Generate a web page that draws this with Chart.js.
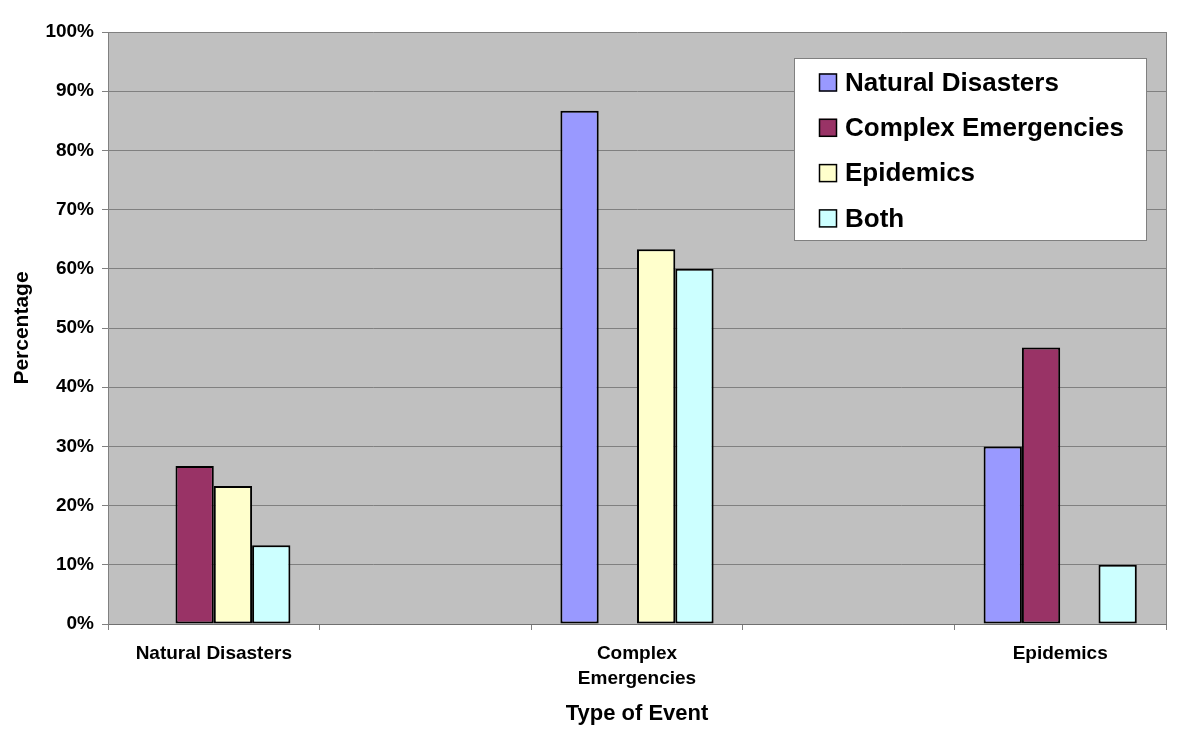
<!DOCTYPE html>
<html>
<head>
<meta charset="utf-8">
<script src="https://cdn.jsdelivr.net/npm/chart.js@4"></script>
<style>
    body { margin: 0; background: #ffffff; }
    #wrap { width: 1200px; height: 736px; }
</style>
</head>
<body>
<div id="wrap"><canvas id="barChart"></canvas></div>
<script>
// categories (two empty slots, like the original sheet)
const categories = ['Natural Disasters', '', ['Complex', 'Emergencies'], '', 'Epidemics'];
const seriesNames = ['Natural Disasters', 'Complex Emergencies', 'Epidemics', 'Both'];

// values in percent
const naturalDisasters = [0, null, 86.7, null, 30];
const complexEmergencies = [26.7, null, 0, null, 46.7];
const epidemics = [23.3, null, 63.3, null, 0];
const both = [13.3, null, 60, null, 10];

const yTicks = [0, 10, 20, 30, 40, 50, 60, 70, 80, 90, 100];

const FONT = '"Liberation Sans", Arial, sans-serif';

// grey plot background + right border
const plotBg = {
    id: 'plotBg',
    beforeDraw(chart) {
        const a = chart.chartArea;
        const ctx = chart.ctx;
        ctx.save();
        ctx.fillStyle = '#c0c0c0';
        ctx.fillRect(a.left, a.top, a.right - a.left, a.bottom - a.top);
        ctx.strokeStyle = '#808080';
        ctx.lineWidth = 1;
        ctx.beginPath();
        ctx.moveTo(a.right + 0.5, a.top);
        ctx.lineTo(a.right + 0.5, a.bottom);
        ctx.stroke();
        ctx.restore();
    }
};

// legend box inside the plot, top right
const boxLegend = {
    id: 'boxLegend',
    afterDraw(chart) {
        const a = chart.chartArea;
        const ctx = chart.ctx;
        const x0 = a.right - 372;
        const y0 = a.top + 26;
        ctx.save();
        ctx.fillStyle = '#ffffff';
        ctx.fillRect(x0, y0, 352, 182);
        ctx.strokeStyle = '#808080';
        ctx.lineWidth = 1;
        ctx.strokeRect(x0 + 0.5, y0 + 0.5, 352, 182);
        ctx.font = 'bold 26px ' + FONT;
        ctx.textBaseline = 'middle';
        ctx.textAlign = 'left';
        chart.data.datasets.forEach(function (ds, i) {
            const cy = y0 + 24.5 + i * 45.3;
            ctx.fillStyle = ds.backgroundColor;
            ctx.fillRect(x0 + 25, cy - 9, 18, 18);
            ctx.strokeStyle = '#000000';
            ctx.lineWidth = 1.5;
            ctx.strokeRect(x0 + 25.5, cy - 8.5, 17, 17);
            ctx.fillStyle = '#000000';
            ctx.fillText(ds.label, x0 + 51, cy + 1);
        });
        ctx.restore();
    }
};

function makeSet(name, values, color) {
    return {
        label: name,
        data: values,
        backgroundColor: color,
        borderColor: '#000000',
        borderWidth: 2,
        borderSkipped: false,
        categoryPercentage: 0.724,
        barPercentage: 1.0
    };
}

window.onload = function () {
    const ctx = document.getElementById('barChart');

    new Chart(ctx, {
        type: 'bar',
        data: {
            labels: categories,
            datasets: [
                makeSet(seriesNames[0], naturalDisasters, '#9999ff'),
                makeSet(seriesNames[1], complexEmergencies, '#993366'),
                makeSet(seriesNames[2], epidemics, '#ffffcc'),
                makeSet(seriesNames[3], both, '#ccffff')
            ]
        },
        options: {
            responsive: true,
            maintainAspectRatio: false,
            animation: false,
            layout: {
                padding: { top: 32, right: 34, left: 0, bottom: 0 }
            },
            plugins: {
                legend: { display: false },
                tooltip: { enabled: false }
            },
            scales: {
                x: {
                    afterFit: function (scale) { scale.height = 112; },
                    grid: {
                        offset: true,
                        drawOnChartArea: false,
                        drawTicks: true,
                        tickLength: 6,
                        color: '#808080'
                    },
                    border: { display: true, color: '#707070' },
                    ticks: {
                        color: '#000000',
                        padding: 11,
                        maxRotation: 0,
                        autoSkip: false,
                        font: { family: FONT, size: 19, weight: 'bold', lineHeight: 1.316 }
                    },
                    title: {
                        display: true,
                        text: 'Type of Event',
                        color: '#000000',
                        padding: { top: 0, bottom: 9 },
                        font: { family: FONT, size: 22, weight: 'bold' }
                    }
                },
                y: {
                    min: 0,
                    max: 100,
                    afterFit: function (scale) { scale.width = 108; },
                    afterBuildTicks: function (scale) {
                        scale.ticks = yTicks.map(function (v) { return { value: v }; });
                    },
                    grid: {
                        color: '#808080',
                        tickLength: 6
                    },
                    border: { display: true, color: '#808080' },
                    ticks: {
                        color: '#000000',
                        padding: 8,
                        font: { family: FONT, size: 19, weight: 'bold' },
                        callback: function (v) { return v + '%'; }
                    },
                    title: {
                        display: true,
                        text: 'Percentage',
                        color: '#000000',
                        padding: { top: 10, bottom: 0 },
                        font: { family: FONT, size: 21, weight: 'bold' }
                    }
                }
            }
        },
        plugins: [plotBg, boxLegend]
    });
}
</script>
</body>
</html>
